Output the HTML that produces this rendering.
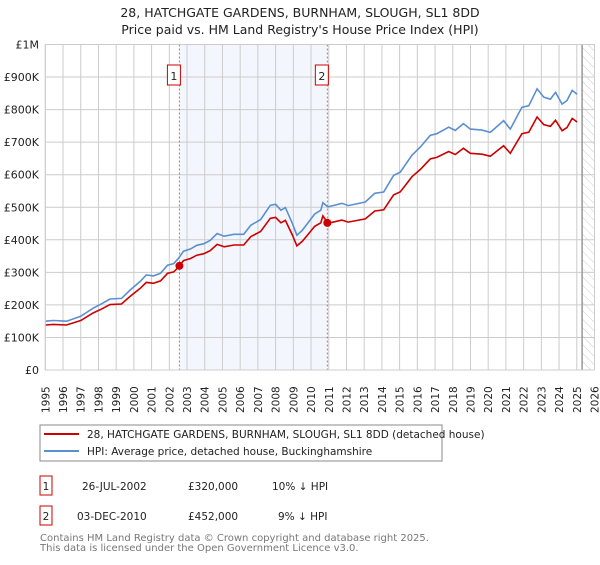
<!DOCTYPE html>
<html><head><meta charset="utf-8"><style>
body{margin:0;background:#fff;}
svg text{font-family:"DejaVu Sans","Liberation Sans",sans-serif;}
</style></head><body>
<svg id="chart" width="600" height="560" viewBox="0 0 600 560" xmlns="http://www.w3.org/2000/svg">
<defs><pattern id="hatch" width="6" height="6" patternUnits="userSpaceOnUse" patternTransform="rotate(-45)"><line x1="0" y1="0" x2="0" y2="6" stroke="#ccc" stroke-width="1"/></pattern></defs>
<text x="300" y="17" font-size="12.5" text-anchor="middle" fill="#222">28, HATCHGATE GARDENS, BURNHAM, SLOUGH, SL1 8DD</text>
<text x="300" y="34" font-size="12.5" text-anchor="middle" fill="#222">Price paid vs. HM Land Registry's House Price Index (HPI)</text>
<g id="plot"></g>
<g>
<rect x="40" y="425" width="402" height="36" fill="#fff" stroke="#888" stroke-width="1"/>
<line x1="44" y1="434" x2="79" y2="434" stroke="#cc0000" stroke-width="2"/>
<text x="87" y="438" font-size="10.5" fill="#222">28, HATCHGATE GARDENS, BURNHAM, SLOUGH, SL1 8DD (detached house)</text>
<line x1="44" y1="451" x2="79" y2="451" stroke="#5b8fd0" stroke-width="2"/>
<text x="87" y="455" font-size="10.5" fill="#222">HPI: Average price, detached house, Buckinghamshire</text>
</g>
<g font-size="10.5" fill="#222">
<rect x="40" y="476" width="12" height="19" fill="#fff" stroke="#cc0000"/>
<text x="46" y="490" text-anchor="middle">1</text>
<text x="82" y="490">26-JUL-2002</text>
<text x="188" y="490">£320,000</text>
<text x="272" y="490">10% ↓ HPI</text>
<rect x="40" y="506" width="12" height="19" fill="#fff" stroke="#cc0000"/>
<text x="46" y="520" text-anchor="middle">2</text>
<text x="77" y="520">03-DEC-2010</text>
<text x="188" y="520">£452,000</text>
<text x="278" y="520">9% ↓ HPI</text>
</g>
<text x="40" y="541" font-size="10" fill="#777">Contains HM Land Registry data © Crown copyright and database right 2025.</text>
<text x="40" y="551" font-size="10" fill="#777">This data is licensed under the Open Government Licence v3.0.</text>
</svg>
<script>
const hpiYears=[1995.0,1995.45,1996.2,1997.0,1997.7,1998.2,1998.65,1999.3,1999.8,2000.35,2000.7,2001.1,2001.5,2001.9,2002.25,2002.5,2002.8,2003.2,2003.55,2003.95,2004.3,2004.7,2005.1,2005.65,2006.2,2006.6,2007.15,2007.7,2008.0,2008.3,2008.55,2008.95,2009.2,2009.5,2009.8,2010.2,2010.55,2010.67,2010.95,2011.74,2012.1,2013.06,2013.6,2014.1,2014.66,2015.04,2015.7,2016.17,2016.73,2017.1,2017.77,2018.14,2018.6,2018.99,2019.65,2020.12,2020.87,2021.25,2021.9,2022.29,2022.76,2023.14,2023.51,2023.8,2024.17,2024.45,2024.74,2025.02];
const hpiValues=[150,152,150,165,190,204,218,220,246,272,292,289,297,322,327,342,365,372,383,388,398,419,411,417,417,445,462,506,509,491,499,450,414,429,450,479,491,514,501,512,505,516,543,547,598,608,660,685,721,726,746,736,757,740,737,730,766,740,807,812,864,838,832,853,817,828,859,847];
const saleYears=[2002.57,2010.92];
const salePrices=[320,452];
const saleLabels=["1","2"];
const yTicks=[0,100,200,300,400,500,600,700,800,900,1000];
const yTickLabels=["£0","£100K","£200K","£300K","£400K","£500K","£600K","£700K","£800K","£900K","£1M"];
const xTicks=[1995,1996,1997,1998,1999,2000,2001,2002,2003,2004,2005,2006,2007,2008,2009,2010,2011,2012,2013,2014,2015,2016,2017,2018,2019,2020,2021,2022,2023,2024,2025,2026];
const dataEnd=2025.3;

const X0=45.3,X1=594.5,Y0=370,Y1=44.5;
const xs=y=>X0+(y-1995)/31*(X1-X0);
const ys=v=>Y0-v/1000*(Y0-Y1);
const NS="http://www.w3.org/2000/svg";
const plot=document.getElementById('plot');
function mk(tag,attrs){const e=document.createElementNS(NS,tag);for(const k in attrs)e.setAttribute(k,attrs[k]);return e;}
function hpiAt(t){for(let i=1;i<hpiYears.length;i++){if(t<=hpiYears[i]){const f=(t-hpiYears[i-1])/(hpiYears[i]-hpiYears[i-1]);return hpiValues[i-1]+f*(hpiValues[i]-hpiValues[i-1]);}}return hpiValues[hpiValues.length-1];}

let shade=mk('rect',{x:xs(saleYears[0]),y:Y1,width:xs(saleYears[1])-xs(saleYears[0]),height:Y0-Y1,fill:'#eef3fc',opacity:0.7});


plot.appendChild(shade);
let hatch=mk('rect',{x:xs(dataEnd),y:Y1,width:X1-xs(dataEnd),height:Y0-Y1,fill:'url(#hatch)'});


plot.appendChild(hatch);

xTicks.forEach((t,i)=>{
 let l=mk('line',{x1:xs(t),x2:xs(t),y1:Y1,y2:Y0,stroke:'#ccc','stroke-width':1});
 
 
 plot.appendChild(l);
 let tx=mk('text',{transform:`translate(${xs(t)+4},413) rotate(-90)`,'font-size':10.5,fill:'#222'});
 
 
 tx.textContent=t;plot.appendChild(tx);
});
yTicks.forEach((v,i)=>{
 let l=mk('line',{x1:X0,x2:X1,y1:ys(v),y2:ys(v),stroke:'#ccc','stroke-width':1});
 
 
 plot.appendChild(l);
 let tx=mk('text',{x:39,y:ys(v)+4,'font-size':11,'text-anchor':'end',fill:'#222'});
 
 
 tx.textContent=yTickLabels[i];plot.appendChild(tx);
});
let endLine=mk('line',{x1:xs(dataEnd),x2:xs(dataEnd),y1:Y1,y2:Y0,stroke:'#999','stroke-width':1.5});


plot.appendChild(endLine);

saleYears.forEach((s,i)=>{
 let l=mk('line',{x1:xs(s),x2:xs(s),y1:Y1,y2:Y0,stroke:'#e06070','stroke-width':1,'stroke-dasharray':'2,2'});
 
 
 plot.appendChild(l);
 let b=mk('rect',{x:xs(s)-12,y:65,width:13,height:20,fill:'#fff',stroke:'#cc0000'});
 
 
 plot.appendChild(b);
 let t=mk('text',{x:xs(s)-5.5,y:80,'font-size':11,'text-anchor':'middle',fill:'#222'});
 
 
 t.textContent=saleLabels[i];plot.appendChild(t);
});

const ratios=saleYears.map((s,i)=>salePrices[i]/hpiAt(s));
let hp='',pp='';
hpiYears.forEach((t,i)=>{
 const r=t<saleYears[1]?ratios[0]:ratios[1];
 hp+=(i?'L':'M')+xs(t).toFixed(1)+','+ys(hpiValues[i]).toFixed(1);
 pp+=(i?'L':'M')+xs(t).toFixed(1)+','+ys(hpiValues[i]*r).toFixed(1);
});
let hl=mk('path',{d:hp,fill:'none',stroke:'#5b8fd0','stroke-width':1.6});


plot.appendChild(hl);
let pl=mk('path',{d:pp,fill:'none',stroke:'#cc0000','stroke-width':1.6});


plot.appendChild(pl);
saleYears.forEach((s,i)=>{
 let c=mk('circle',{cx:xs(s),cy:ys(salePrices[i]),r:4,fill:'#cc0000'});
 
 
 plot.appendChild(c);
});
let frame=mk('rect',{x:X0,y:Y1,width:X1-X0,height:Y0-Y1,fill:'none',stroke:'#ccc'});


plot.appendChild(frame);
</script>
</body></html>
